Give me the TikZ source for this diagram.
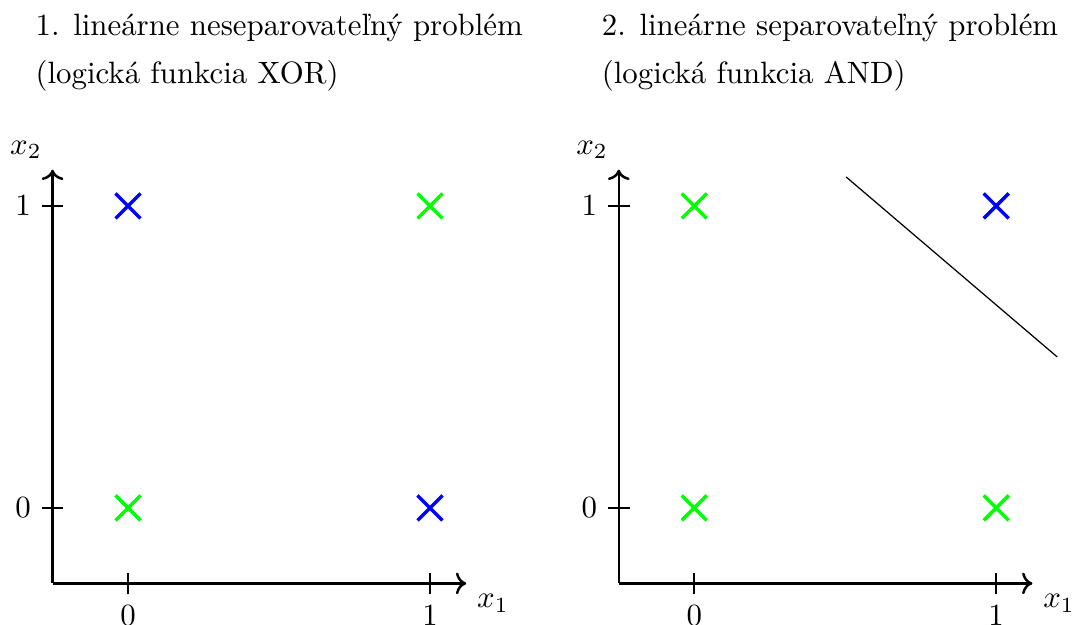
\documentclass[tikz,border=0pt]{standalone}
\usepackage{tikz}
\usetikzlibrary{arrows.meta,calc,positioning,shapes.misc}
\definecolor{ptBlue}{RGB}{0,0,255}
\definecolor{ptGreen}{RGB}{0,255,0}
\tikzset{
  every node/.style={font=\normalsize},
  axis/.style={->, line width=0.8pt, draw=black},
  tick/.style={line width=0.5pt, draw=black},
  xmark/.style={cross out, draw, line width=1.1pt, minimum size=7pt, inner sep=0pt},
  classA/.style={xmark, draw=ptBlue},
  classB/.style={xmark, draw=ptGreen},
  sepline/.style={draw=black, line width=0.4pt},
  titleline/.style={anchor=base west, inner sep=0pt},
}

\begin{document}
\begin{tikzpicture}[x=3.44cm,y=3.44cm]
  \useasboundingbox (-0.424,-0.387) rectangle (3.136,1.682);

  % left plot: XOR
  \node[titleline] (title1) at (-0.308,1.563) {1. lineárne neseparovateľný problém};
  \node[titleline] (sub1) at (-0.308,1.404) {(logická funkcia XOR)};
  \coordinate (o1) at (-0.25,-0.25);
  \draw[axis] (o1) -- (1.12,-0.25) coordinate (xe1);
  \draw[axis] (o1) -- (-0.25,1.12) coordinate (ye1);
  \node[anchor=north west] (xl1) at (xe1) {$x_1$};
  \node[anchor=south east] (yl1) at (ye1) {$x_2$};
  \foreach \t in {0,1} {
    \draw[tick] (\t,-0.286) -- (\t,-0.214);
    \node[anchor=north] (xt1\t) at (\t,-0.286) {$\t$};
    \draw[tick] (-0.286,\t) -- (-0.214,\t);
    \node[anchor=east] (yt1\t) at (-0.286,\t) {$\t$};
  }
  \node[classA] (a01) at (0,1) {};
  \node[classB] (a11) at (1,1) {};
  \node[classB] (a00) at (0,0) {};
  \node[classA] (a10) at (1,0) {};

  % right plot: AND
  \begin{scope}[shift={(1.875,0)}]
    \node[titleline] (title2) at (-0.308,1.563) {2. lineárne separovateľný problém};
    \node[titleline] (sub2) at (-0.308,1.404) {(logická funkcia AND)};
    \coordinate (o2) at (-0.25,-0.25);
    \draw[axis] (o2) -- (1.12,-0.25) coordinate (xe2);
    \draw[axis] (o2) -- (-0.25,1.12) coordinate (ye2);
    \node[anchor=north west] (xl2) at (xe2) {$x_1$};
    \node[anchor=south east] (yl2) at (ye2) {$x_2$};
    \foreach \t in {0,1} {
      \draw[tick] (\t,-0.286) -- (\t,-0.214);
      \node[anchor=north] (xt2\t) at (\t,-0.286) {$\t$};
      \draw[tick] (-0.286,\t) -- (-0.214,\t);
      \node[anchor=east] (yt2\t) at (-0.286,\t) {$\t$};
    }
    \node[classB] (b01) at (0,1) {};
    \node[classA] (b11) at (1,1) {};
    \node[classB] (b00) at (0,0) {};
    \node[classB] (b10) at (1,0) {};
    \draw[sepline] (0.503,1.096) -- (1.202,0.5);
  \end{scope}
\end{tikzpicture}
\end{document}
